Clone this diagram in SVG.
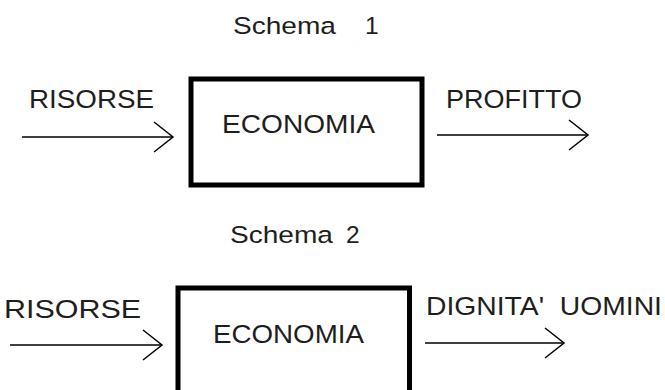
<svg xmlns="http://www.w3.org/2000/svg" width="665" height="390" viewBox="0 0 665 390">
  <style>
    .lbl { font-family: "Liberation Sans", Arial, sans-serif; font-size: 25.5px; fill: #1e1e1e; }
    .title { font-family: "Liberation Sans", Arial, sans-serif; font-size: 24.5px; fill: #1e1e1e; }
    .box { fill: #ffffff; stroke: #000000; stroke-width: 5; }
    .flow { fill: none; stroke: #000000; stroke-width: 1.5; marker-end: url(#chevron); }
  </style>
  <defs>
    <marker id="chevron" markerUnits="userSpaceOnUse" viewBox="-22 -18 24 36" refX="0" refY="0" markerWidth="24" markerHeight="36" orient="auto" overflow="visible">
      <path d="M-19,-15 L0,0 L-19,15" fill="none" stroke="#000000" stroke-width="1.5"/>
    </marker>
  </defs>
  <rect width="665" height="390" fill="#ffffff"/>

  <!-- Schema 1 -->
  <text class="title" x="233" y="34" textLength="103" lengthAdjust="spacingAndGlyphs">Schema</text>
  <text class="title" x="365" y="34">1</text>

  <g id="economia1">
    <rect class="box" x="191" y="79" width="231" height="106"/>
    <text class="lbl" x="222" y="133" textLength="153" lengthAdjust="spacingAndGlyphs">ECONOMIA</text>
  </g>

  <g id="risorse1">
    <text class="lbl" x="29" y="108" textLength="125" lengthAdjust="spacingAndGlyphs">RISORSE</text>
  </g>

  <g id="profitto">
    <text class="lbl" x="446" y="108" textLength="136" lengthAdjust="spacingAndGlyphs">PROFITTO</text>
  </g>

  <!-- Schema 2 -->
  <text class="title" x="230" y="243" textLength="103" lengthAdjust="spacingAndGlyphs">Schema</text>
  <text class="title" x="346" y="243">2</text>

  <g id="economia2">
    <rect class="box" x="178" y="288" width="231.5" height="120"/>
    <text class="lbl" x="213" y="343" textLength="151" lengthAdjust="spacingAndGlyphs">ECONOMIA</text>
  </g>

  <g id="risorse2">
    <text class="lbl" x="4" y="318" textLength="137" lengthAdjust="spacingAndGlyphs">RISORSE</text>
  </g>

  <g id="dignita">
    <text class="lbl" x="426" y="315" textLength="236" lengthAdjust="spacingAndGlyphs" xml:space="preserve">DIGNITA'  UOMINI</text>
  </g>

  <!-- flow arrows -->
  <g id="connectors">
    <line class="flow" x1="22" y1="137" x2="173" y2="137"/>
    <line class="flow" x1="437" y1="135" x2="588" y2="135"/>
    <line class="flow" x1="10" y1="345" x2="162" y2="345"/>
    <line class="flow" x1="425" y1="343" x2="564" y2="343"/>
  </g>
</svg>
